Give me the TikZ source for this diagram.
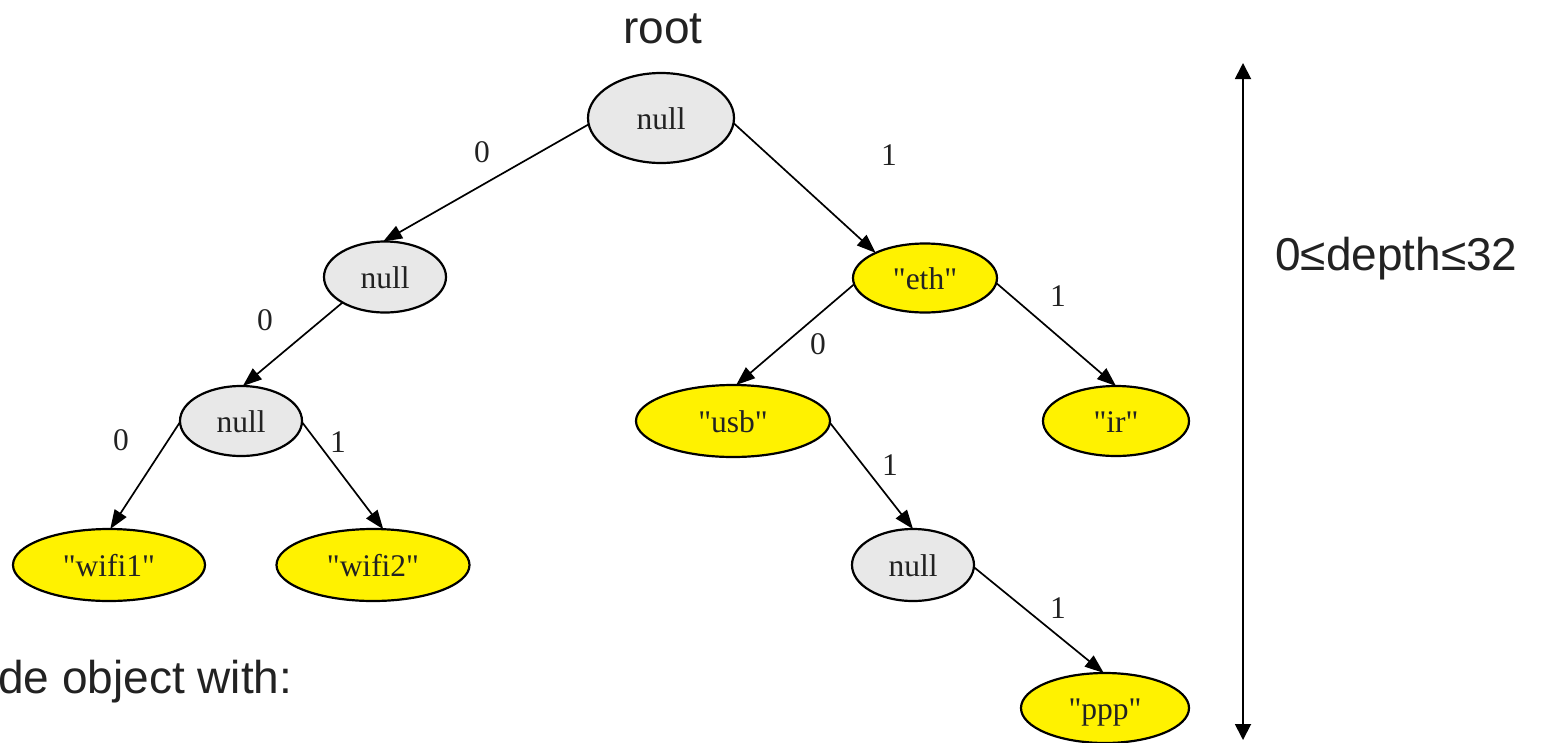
\documentclass[tikz,border=0pt]{standalone}
\usepackage{fontspec}
\setmainfont{Liberation Serif}
\setsansfont{Liberation Sans}
\usetikzlibrary{shapes.geometric,arrows.meta}
\definecolor{nodegray}{HTML}{E8E8E8}
\definecolor{txt}{HTML}{222222}
\newcommand{\qq}[1]{\textquotedbl#1\textquotedbl}
\begin{document}
\begin{tikzpicture}[x=1pt,y=-1pt,
  tnode/.style={ellipse,draw=black,line width=2.2pt,inner sep=0pt,outer sep=0pt,
    font=\fontsize{31.5}{31.5}\selectfont,text=txt,text height=22pt,text depth=0pt},
  gnode/.style={tnode,fill=nodegray},
  ynode/.style={tnode,fill=yellow},
  edge/.style={line width=1.7pt,-{Triangle[length=19pt,width=14pt]}},
  elabel/.style={font=\fontsize{31.5}{31.5}\selectfont,text=txt,inner sep=0pt},
  biglabel/.style={font=\sffamily\fontsize{46}{46}\selectfont,text=txt,inner sep=0pt}]
\useasboundingbox (0,0) rectangle (1550,742);
% nodes
\node[gnode,minimum width=146pt,minimum height=90pt] (root) at (661,118) {null};
\node[gnode,minimum width=122pt,minimum height=71pt] (lnull) at (385,277) {null};
\node[ynode,minimum width=144pt,minimum height=69pt] (eth) at (925,278) {\qq{eth}};
\node[gnode,minimum width=122pt,minimum height=70pt] (llnull) at (241,421) {null};
\node[ynode,minimum width=194pt,minimum height=72pt] (usb) at (733,421) {\qq{usb}};
\node[ynode,minimum width=146pt,minimum height=70pt] (ir) at (1116,421) {\qq{ir}};
\node[ynode,minimum width=192pt,minimum height=72pt] (wifi1) at (109,565) {\qq{wifi1}};
\node[ynode,minimum width=193pt,minimum height=72pt] (wifi2) at (373,565) {\qq{wifi2}};
\node[gnode,minimum width=122pt,minimum height=72pt] (rnull) at (913,565) {null};
\node[ynode,minimum width=168pt,minimum height=70pt] (ppp) at (1105,708) {\qq{ppp}};
% edges
\draw[edge] (root.185) -- (lnull.93);
\draw[edge] (root.356) -- (eth.153);
\draw[edge] (lnull.211) -- (llnull.87);
\draw[edge] (llnull.181) -- (wifi1.88);
\draw[edge] (llnull.359) -- (wifi2.74);
\draw[edge] (eth.185) -- (usb.85);
\draw[edge] (eth.356) -- (ir.90);
\draw[edge] (usb.359) -- (rnull.90);
\draw[edge] (rnull.358) -- (ppp.92);
% edge labels
\node[elabel] (l1) at (482,152) {0};
\node[elabel] (l2) at (889,155) {1};
\node[elabel] (l3) at (265,320) {0};
\node[elabel] (l4) at (818,344) {0};
\node[elabel] (l5) at (1058,296) {1};
\node[elabel] (l6) at (121,440) {0};
\node[elabel] (l7) at (338,442) {1};
\node[elabel] (l8) at (890,465) {1};
\node[elabel] (l9) at (1058,608) {1};
% other texts
\node[biglabel,anchor=base] (rootlbl) at (663,43) {root};
\node[biglabel,anchor=base west] (depth) at (1275,270) {0≤depth≤32};
\node[biglabel,anchor=base west] (obj) at (-2,693) {de object with:};
% depth arrow
\coordinate (dtop) at (1243,63);
\coordinate (dbot) at (1243,740);
\draw[line width=1.8pt,{Triangle[length=16pt,width=16pt]}-{Triangle[length=16pt,width=16pt]}] (dtop) -- (dbot);
\end{tikzpicture}
\end{document}
